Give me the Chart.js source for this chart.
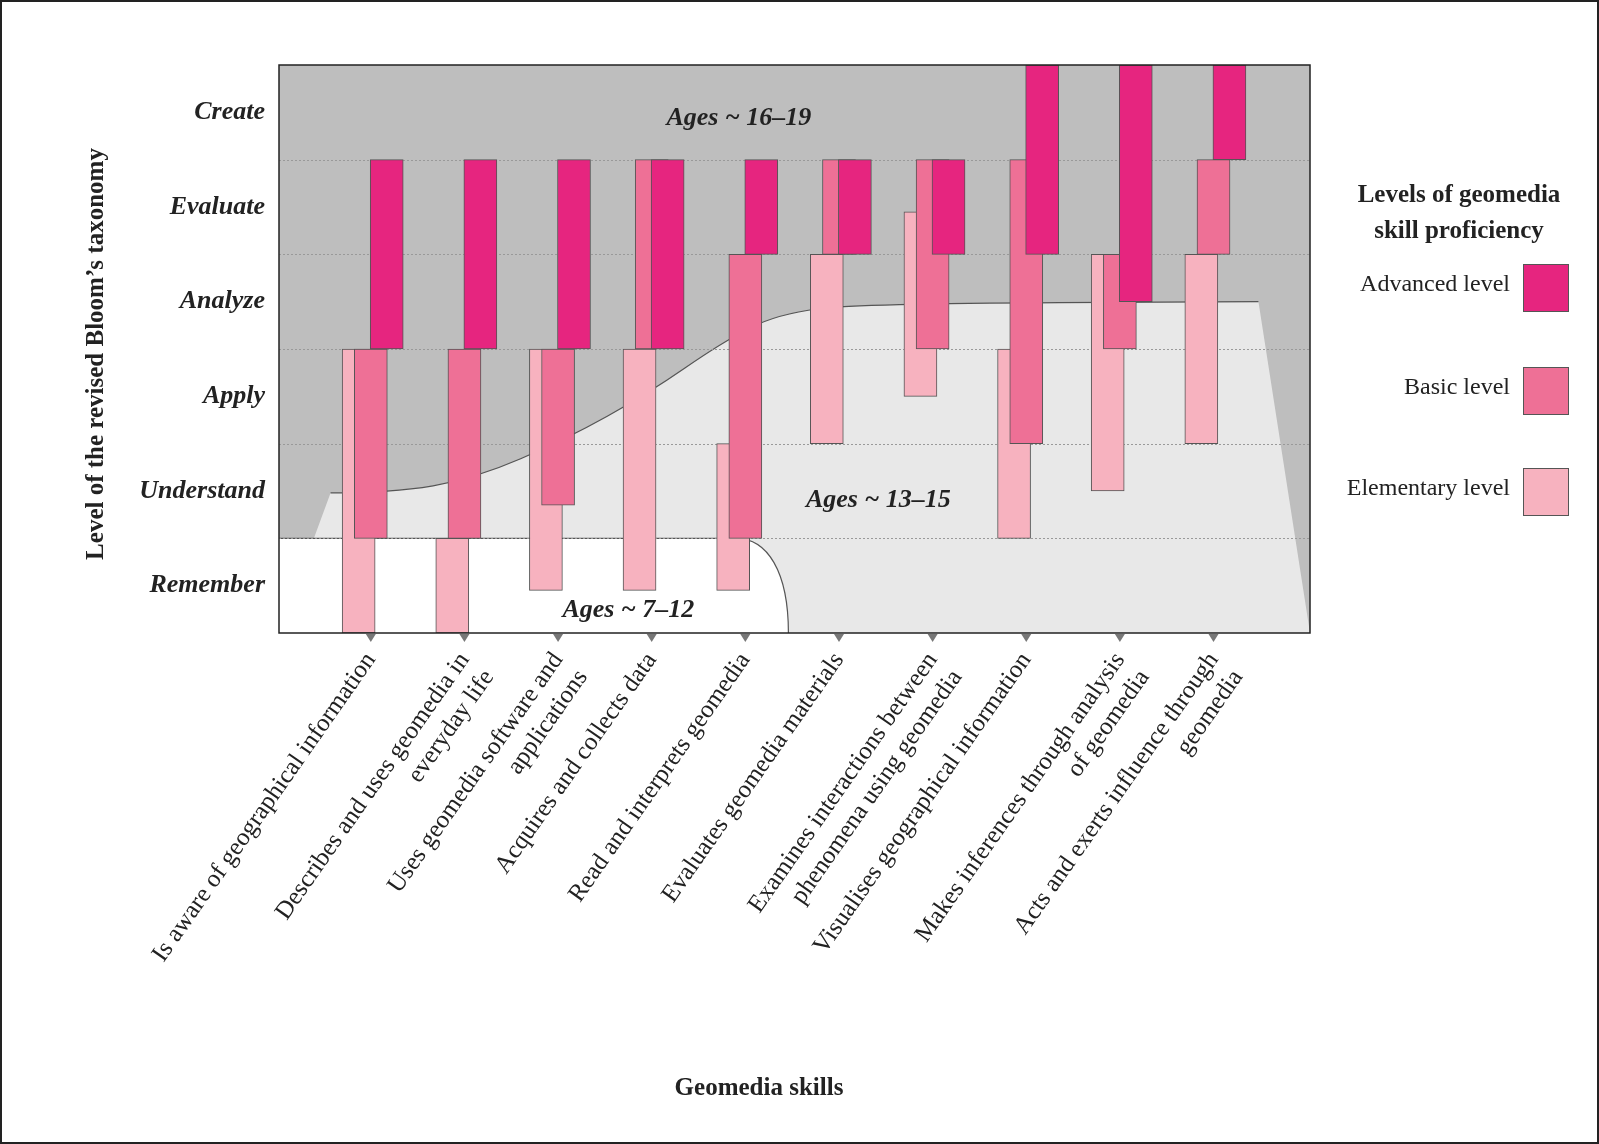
<!DOCTYPE html>
<html>
<head>
<meta charset="utf-8">
<script src="https://cdn.jsdelivr.net/npm/chart.js@4/dist/chart.umd.min.js"></script>
<style>
  body { margin: 0; background: #fff; }
  canvas { display: block; }
</style>
</head>
<body>
<canvas id="chart" width="1599" height="1144"></canvas>
<script>
// --- data ---
const skills = [
    'Is aware of geographical information',
    ['Describes and uses geomedia in', 'everyday life'],
    ['Uses geomedia software and', 'applications'],
    'Acquires and collects data',
    'Read and interprets geomedia',
    'Evaluates geomedia materials',
    ['Examines interactions between', 'phenomena using geomedia'],
    'Visualises geographical information',
    ['Makes inferences through analysis', 'of geomedia'],
    ['Acts and exerts influence through', 'geomedia']
];
const bloomLevels = ['Remember', 'Understand', 'Apply', 'Analyze', 'Evaluate', 'Create'];

// [from, to] on the Bloom scale (0 = bottom of Remember, 6 = top of Create)
const elementary = [[0, 3], [0, 1], [0.45, 3], [0.45, 3], [0.45, 2], [2, 4], [2.5, 4.45], [1, 3], [1.5, 4], [2, 4]];
const basic      = [[1, 3], [1, 3], [1.35, 3], [3, 5], [1, 4], [4, 5], [3, 5], [2, 5], [3, 4], [4, 5]];
const advanced   = [[3, 5], [3, 5], [3, 5], [3, 5], [4, 5], [4, 5], [4, 5], [4, 6], [3.5, 6], [5, 6]];

// age zone boundaries (x in skill units, y in Bloom units)
const olderBoundary = [[-0.43, 1.48], [0.22, 1.48], [1.11, 1.63], [2.09, 2.05], [2.96, 2.53],
                       [3.75, 3.07], [4.34, 3.37], [5.22, 3.48], [9.48, 3.5]];
const youngBoundary = { level: 1, curveStart: 3.9, curveEnd: 4.46 };

const colors = { advanced: '#e6257f', basic: '#ee7096', elementary: '#f7b2bf' };
const serif = '"Liberation Serif", "DejaVu Serif", serif';

function toPoints(ranges, offset) {
    return ranges.map((r, i) => ({ x: i + offset, y: r }));
}

const backgroundPlugin = {
    id: 'zones',
    beforeDatasetsDraw(chart) {
        const { ctx, chartArea: a, scales: { x, y } } = chart;
        ctx.save();
        ctx.fillStyle = '#bebebe';
        ctx.fillRect(a.left, a.top, a.width, a.height);

        // light zone (ages 13-15) below the curve
        const pts = olderBoundary.map(p => [x.getPixelForValue(p[0]), y.getPixelForValue(p[1])]);
        function curvePath() {
            ctx.moveTo(pts[0][0], pts[0][1]);
            for (let i = 1; i < pts.length - 1; i++) {
                const mx = (pts[i][0] + pts[i + 1][0]) / 2, my = (pts[i][1] + pts[i + 1][1]) / 2;
                ctx.quadraticCurveTo(pts[i][0], pts[i][1], mx, my);
            }
            ctx.lineTo(pts[pts.length - 1][0], pts[pts.length - 1][1]);
        }
        ctx.beginPath();
        curvePath();
        ctx.lineTo(a.right, a.bottom);
        ctx.lineTo(a.left, a.bottom);
        ctx.closePath();
        ctx.fillStyle = '#e8e8e8';
        ctx.fill();
        ctx.beginPath();
        curvePath();
        ctx.strokeStyle = '#555';
        ctx.lineWidth = 1.2;
        ctx.stroke();

        // white zone (ages 7-12)
        const yl = y.getPixelForValue(youngBoundary.level);
        const xs = x.getPixelForValue(youngBoundary.curveStart);
        const xe = x.getPixelForValue(youngBoundary.curveEnd);
        ctx.beginPath();
        ctx.moveTo(a.left, yl);
        ctx.lineTo(xs, yl);
        ctx.bezierCurveTo(xs + (xe - xs) * 0.6, yl, xe, yl + (a.bottom - yl) * 0.35, xe, a.bottom);
        ctx.lineTo(a.left, a.bottom);
        ctx.closePath();
        ctx.fillStyle = '#ffffff';
        ctx.fill();
        ctx.beginPath();
        ctx.moveTo(a.left, yl);
        ctx.lineTo(xs, yl);
        ctx.bezierCurveTo(xs + (xe - xs) * 0.6, yl, xe, yl + (a.bottom - yl) * 0.35, xe, a.bottom);
        ctx.stroke();

        // dotted level lines
        ctx.setLineDash([2, 2]);
        ctx.strokeStyle = '#999';
        ctx.lineWidth = 1;
        for (let v = 1; v <= 5; v++) {
            const py = Math.round(y.getPixelForValue(v)) + 0.5;
            ctx.beginPath();
            ctx.moveTo(a.left, py);
            ctx.lineTo(a.right, py);
            ctx.stroke();
        }
        ctx.restore();
    },
    afterDatasetsDraw(chart) {
        const { ctx, chartArea: a, scales: { x, y } } = chart;
        ctx.save();
        ctx.fillStyle = '#222';
        ctx.font = 'italic bold 26px ' + serif;
        ctx.textAlign = 'center';
        ctx.textBaseline = 'middle';
        ctx.fillText('Ages ~ 16–19', x.getPixelForValue(3.93), y.getPixelForValue(5.44));
        ctx.fillText('Ages ~ 13–15', x.getPixelForValue(5.42), y.getPixelForValue(1.4));
        ctx.fillText('Ages ~ 7–12', x.getPixelForValue(2.75), y.getPixelForValue(0.24));

        ctx.strokeStyle = '#222';
        ctx.lineWidth = 1.5;
        ctx.strokeRect(a.left, a.top, a.width, a.height);

        // small tick triangles under the axis
        ctx.fillStyle = '#777';
        for (let i = 0; i < skills.length; i++) {
            const px = x.getPixelForValue(i);
            ctx.beginPath();
            ctx.moveTo(px - 5, a.bottom + 1);
            ctx.lineTo(px + 5, a.bottom + 1);
            ctx.lineTo(px, a.bottom + 9);
            ctx.closePath();
            ctx.fill();
        }
        ctx.restore();
    },
    afterDraw(chart) {
        const { ctx } = chart;
        ctx.save();
        ctx.fillStyle = '#222';
        ctx.textBaseline = 'middle';

        // legend
        ctx.font = 'bold 25px ' + serif;
        ctx.textAlign = 'center';
        ctx.fillText('Levels of geomedia', 1459, 196);
        ctx.fillText('skill proficiency', 1459, 232);
        const items = [['Advanced level', colors.advanced, 287],
                       ['Basic level', colors.basic, 390],
                       ['Elementary level', colors.elementary, 491]];
        ctx.font = '24px ' + serif;
        ctx.textAlign = 'right';
        items.forEach(([label, col, cy]) => {
            ctx.fillStyle = '#222';
            ctx.fillText(label, 1510, cy - 2);
            ctx.fillStyle = col;
            ctx.fillRect(1523, cy - 23, 45, 47);
            ctx.strokeStyle = '#555';
            ctx.lineWidth = 1;
            ctx.strokeRect(1523.5, cy - 22.5, 45, 47);
        });

        // axis titles
        ctx.fillStyle = '#222';
        ctx.font = 'bold 25px ' + serif;
        ctx.textAlign = 'center';
        ctx.fillText('Geomedia skills', 759, 1089);
        ctx.translate(97, 354);
        ctx.rotate(-Math.PI / 2);
        ctx.fillText('Level of the revised Bloom’s taxonomy', 0, 0);
        ctx.restore();

        // outer frame
        ctx.save();
        ctx.strokeStyle = '#222';
        ctx.lineWidth = 2;
        ctx.strokeRect(1, 1, chart.width - 2, chart.height - 2);
        ctx.restore();
    }
};

const barStyle = { barThickness: 33, borderWidth: 1, borderColor: '#555', borderSkipped: false, grouped: false };

new Chart(document.getElementById('chart'), {
    type: 'bar',
    data: {
        datasets: [
            Object.assign({ label: 'Elementary level', data: toPoints(elementary, -0.13), backgroundColor: colors.elementary, order: 3 }, barStyle),
            Object.assign({ label: 'Basic level', data: toPoints(basic, 0.0), backgroundColor: colors.basic, order: 2 }, barStyle),
            Object.assign({ label: 'Advanced level', data: toPoints(advanced, 0.17), backgroundColor: colors.advanced, order: 1 }, barStyle)
        ]
    },
    options: {
        responsive: false,
        animation: false,
        devicePixelRatio: 1,
        layout: { padding: { left: 0, right: 289, top: 65, bottom: 0 } },
        plugins: { legend: { display: false }, tooltip: { enabled: false } },
        scales: {
            x: {
                type: 'linear',
                min: -0.43,
                max: 9.48,
                grid: { display: false, drawTicks: false },
                border: { display: false },
                afterBuildTicks(scale) { scale.ticks = skills.map((s, i) => ({ value: i })); },
                afterFit(scale) { scale.height = 1144 - 633; },
                ticks: {
                    autoSkip: false,
                    minRotation: 55,
                    maxRotation: 55,
                    padding: 14,
                    color: '#222',
                    font: { family: serif, size: 25 },
                    callback: (v) => skills[v]
                }
            },
            y: {
                min: 0,
                max: 6,
                grid: { display: false },
                border: { display: false },
                afterBuildTicks(scale) { scale.ticks = bloomLevels.map((s, i) => ({ value: i + 0.5 })); },
                afterFit(scale) { scale.width = 279; },
                ticks: {
                    padding: 6,
                    color: '#222',
                    font: { family: serif, size: 26, style: 'italic', weight: 'bold' },
                    callback: (v) => bloomLevels[Math.floor(v)]
                }
            }
        }
    },
    plugins: [backgroundPlugin]
});
</script>
</body>
</html>
